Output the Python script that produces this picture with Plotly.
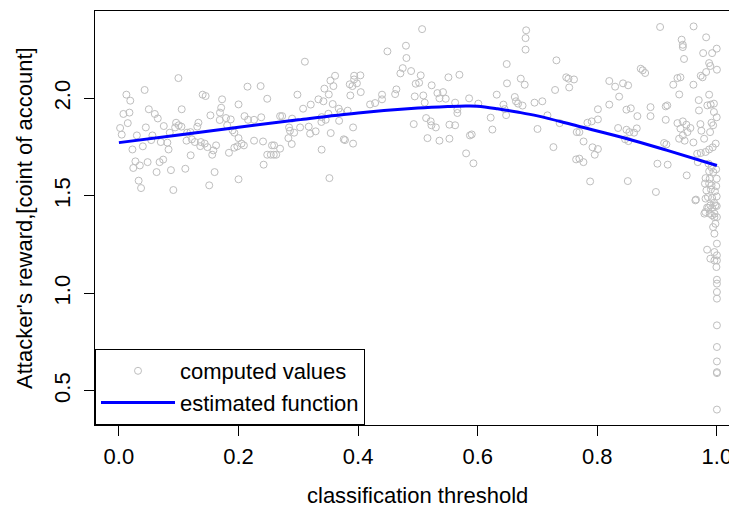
import plotly.graph_objects as go

# computed values (classification threshold, attacker's reward)
x_pts = [0.0995,0.043,0.0125,0.019,0.0075,0.0176,0.0148,0.002,0.0047,0.030,0.045,0.050,0.060,0.065,0.075,0.056,0.054,0.070,0.081,0.083,0.085,0.0226,0.040,0.0276,0.024,0.035,0.048,0.068,0.074,0.063,0.033,0.037,0.087,0.091,0.111,0.105,0.0956,0.094,0.100,0.1045,0.113,0.120,0.114,0.122,0.127,0.133,0.131,0.1196,0.137,0.140,0.145,0.136,0.1435,0.148,0.153,0.156,0.158,0.1625,0.160,0.151,0.1725,0.171,0.169,0.1686,0.179,0.187,0.181,0.190,0.193,0.200,0.200,0.184,0.193,0.198,0.205,0.209,0.200,0.215,0.210,0.216,0.226,0.226,
         0.237,0.248,0.238,0.241,0.248,0.254,0.259,0.263,0.256,0.2595,0.2695,0.242,0.2695,0.273,0.2845,0.2896,0.286,0.293,0.2834,0.289,0.2985,0.303,0.311,0.308,0.3208,0.3174,0.3197,0.329,0.3336,0.342,0.3436,0.3386,0.339,0.3458,0.339,0.3537,0.3615,0.3587,0.351,0.3575,0.3503,0.3676,0.3704,0.3682,0.3542,0.3826,0.376,0.378,0.3916,0.3916,0.352,0.386,0.3933,0.3933,0.4038,0.398,0.3905,0.387,0.4044,0.420,0.4284,0.440,0.440,0.4619,0.464,0.449,0.480,0.4808,0.4746,0.4707,0.4886,0.4963,0.4947,0.493,
         0.507,0.5047,0.502,0.523,0.509,0.5114,0.5326,0.542,0.536,0.5465,0.551,0.5694,0.5137,0.5214,0.5226,0.530,0.516,0.536,0.5527,0.5527,0.5622,0.5622,0.566,0.566,0.5856,0.601,0.587,0.590,0.5806,0.5928,0.6217,0.6245,0.6318,0.6485,0.649,0.643,0.645,0.6475,0.662,0.664,0.6675,0.675,0.672,0.6786,0.681,0.680,0.680,0.695,0.708,0.700,0.7166,0.7266,0.7316,0.7294,0.737,0.748,0.7517,0.753,0.761,0.7656,0.7646,
         0.905,0.961,0.941,0.943,0.943,0.982,0.945,0.977,0.992,0.9997,0.987,0.989,1.0,0.982,0.973,0.976,0.8726,0.876,0.880,0.820,0.8298,0.843,0.8515,0.8365,0.820,0.801,0.801,0.7906,0.7835,0.770,0.777,0.792,0.801,0.7957,0.770,0.7768,0.788,0.8487,0.856,0.867,0.889,0.889,0.9144,0.917,0.9144,0.927,0.934,0.939,0.937,0.9607,0.8348,0.8487,0.8537,0.866,0.8615,0.8465,0.852,0.9005,0.9177,0.851,0.898,0.9495,0.9117,0.9155,
         0.934,0.943,0.939,0.949,0.9557,0.9368,0.943,0.946,0.9507,0.9607,
         0.9696,0.970,0.9724,0.974,0.9786,0.987,0.984,0.9896,0.995,0.995,0.9997,0.991,0.9937,0.9886,
         0.967,0.973,0.981,0.987,0.993,0.998,0.968,0.986,0.991,0.9987,0.987,0.994,
         0.981,0.988,0.9997,0.987,0.980,0.991,0.9989,0.9824,0.990,0.9967,0.985,0.981,0.992,0.9997,0.965,0.9953,0.9857,0.992,0.9997,0.9806,0.988,0.996,
         0.964,0.979,0.9836,0.989,0.9975,0.992,0.9958,1.0,0.9975,0.9936,0.9958,1.0,0.9836,0.9958,1.0,0.989,0.9958,1.0,0.9992,1.0,1.0,1.0,1.0,1.0,1.0,1.0,1.0,1.0,1.0]
y_pts = [2.104,2.043,2.019,1.988,1.920,1.927,1.873,1.848,1.814,1.810,1.851,1.944,1.920,1.897,1.858,1.810,1.786,1.776,1.773,1.738,1.824,1.738,1.754,1.677,1.643,1.656,1.673,1.673,1.686,1.622,1.578,1.540,1.632,1.530,1.639,1.944,1.875,1.851,1.862,1.855,1.783,1.708,1.824,1.790,1.776,1.875,1.855,1.827,1.776,2.019,2.012,1.755,1.768,1.750,1.913,1.711,1.733,1.759,1.622,1.554,1.995,1.952,1.927,1.889,1.899,1.892,1.862,1.836,1.824,1.969,1.796,1.721,1.747,1.754,1.768,1.759,1.585,2.060,1.909,1.890,1.890,1.783,
         2.063,1.998,1.903,1.779,1.711,1.711,1.711,1.711,1.759,1.759,1.742,1.660,1.909,1.909,1.851,1.896,1.834,1.824,1.796,1.766,2.019,1.851,2.188,1.947,1.968,1.855,1.819,1.831,1.995,1.985,2.050,1.879,1.904,1.890,1.737,2.091,2.116,2.063,2.020,1.971,1.921,1.947,1.930,1.885,1.822,1.937,1.790,1.786,1.851,1.768,1.591,2.072,2.116,2.097,2.118,2.077,2.063,2.015,2.032,1.969,1.976,2.019,1.995,2.022,2.046,2.241,2.270,2.207,2.155,2.128,2.140,2.075,2.010,1.868,
         2.355,2.118,2.080,2.067,2.015,1.978,2.027,2.032,2.000,1.998,2.108,2.121,1.899,1.882,1.862,1.851,1.796,1.783,1.793,1.865,1.862,1.978,1.944,1.925,2.000,1.973,1.810,1.815,1.718,1.667,1.901,1.840,2.019,2.176,2.077,1.968,1.945,1.914,2.007,1.985,1.973,1.963,2.101,2.070,2.349,2.309,2.250,1.978,1.985,1.843,1.913,1.750,2.195,2.043,1.873,2.108,2.101,2.056,2.097,1.827,1.687,
         2.366,2.369,2.301,2.275,2.263,2.313,2.202,2.232,2.232,2.255,2.181,2.166,2.147,2.135,2.116,2.108,2.152,2.144,2.130,2.089,2.060,2.077,2.067,2.009,1.968,1.944,1.892,1.882,1.875,1.827,1.779,1.749,1.740,1.711,1.691,1.673,1.574,1.942,1.949,1.909,1.955,1.909,1.959,1.964,1.890,2.070,2.104,2.108,2.020,2.070,1.848,1.839,1.827,1.846,1.824,1.790,1.781,1.665,1.660,1.576,1.520,1.605,1.771,1.764,
         1.873,1.882,1.845,1.865,1.848,1.793,1.810,1.783,1.827,1.774,
         1.991,1.938,1.868,1.834,1.793,2.019,1.964,1.968,1.973,1.930,1.903,1.875,1.862,1.827,
         1.716,1.720,1.725,1.738,1.749,1.768,1.673,1.665,1.646,1.636,1.626,1.622,
         1.591,1.588,1.588,1.563,1.563,1.554,1.550,1.528,1.533,1.523,1.494,1.486,1.489,1.497,1.481,1.465,1.438,1.438,1.448,1.417,1.409,1.409,
         1.477,1.409,1.440,1.451,1.451,1.400,1.391,1.391,1.357,1.340,1.306,1.255,1.224,1.212,1.195,1.178,1.169,1.169,1.135,1.070,1.050,1.007,0.973,0.836,0.725,0.651,0.596,0.591,0.404]

# estimated function
x_fit = [0.0, 0.1, 0.2, 0.3, 0.4, 0.5, 0.55, 0.58, 0.6, 0.633, 0.666, 0.7, 0.767, 0.85, 0.917, 1.0]
y_fit = [1.773, 1.812, 1.852, 1.890, 1.925, 1.950, 1.958, 1.961, 1.960, 1.947, 1.930, 1.910, 1.858, 1.793, 1.733, 1.656]

x_ticks = [0.0, 0.2, 0.4, 0.6, 0.8, 1.0]
y_ticks = [0.5, 1.0, 1.5, 2.0]

x_title = "classification threshold"
y_title = "Attacker's reward,[coint of account]"

FONT = "Liberation Sans"
FS = 22

fig = go.Figure()
fig.add_trace(go.Scatter(
    x=x_pts, y=y_pts, mode="markers", name="computed values",
    marker=dict(symbol="circle-open", size=7, color="#bebebe", line=dict(width=1, color="#bebebe")),
))
fig.add_trace(go.Scatter(
    x=x_fit, y=y_fit, mode="lines", name="estimated function",
    line=dict(color="#0000ff", width=3, shape="spline"),
))

# the page body has an 8px default margin, so the figure is sized to fit the window
fig.update_layout(
    width=729, height=500,
    margin=dict(l=87, r=0, t=3, b=83),
    plot_bgcolor="white", paper_bgcolor="white",
    font=dict(family=FONT, size=FS, color="black"),
    legend=dict(
        x=0, y=0, xanchor="left", yanchor="bottom",
        bgcolor="white", bordercolor="black", borderwidth=1,
        font=dict(size=FS), itemwidth=74, tracegroupgap=0,
        entrywidth=196, entrywidthmode="pixels",
    ),
    showlegend=True,
    annotations=[
        dict(text=x_title, xref="paper", yref="paper", x=0.5, y=0, xanchor="center",
             yanchor="middle", yshift=-70, xshift=1, showarrow=False, font=dict(size=FS)),
        dict(text=y_title, xref="paper", yref="paper", x=0, y=0.5, xanchor="center",
             yanchor="middle", xshift=-71, textangle=-90, showarrow=False, font=dict(size=FS)),
    ],
)
fig.update_xaxes(
    range=[-0.04, 1.0336], tickvals=x_ticks, tickformat=".1f",
    showline=True, mirror=True, linecolor="black", linewidth=1,
    ticks="outside", ticklen=10, tickcolor="black", showgrid=False, zeroline=False,
    automargin=False, ticklabelstandoff=2,
)
fig.update_yaxes(
    range=[0.325, 2.448], tickvals=y_ticks, tickformat=".1f", tickangle=-90,
    showline=True, mirror=False, linecolor="black", linewidth=1,
    ticks="outside", ticklen=10, tickcolor="black", showgrid=False, zeroline=False,
    automargin=False, ticklabelstandoff=5,
)

fig.write_html("out.html")
